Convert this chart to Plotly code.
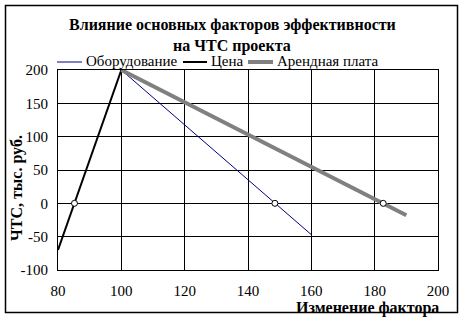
import plotly.graph_objects as go

# Data
x_equipment = [100, 160]
y_equipment = [200, -47]
x_price = [80, 100]
y_price = [-70, 200]
x_rent = [100, 190]
y_rent = [200, -18]
zero_x = [85.2, 148.5, 182.7]
zero_y = [0, 0, 0]

names = ["Оборудование", "Цена", "Арендная плата"]
colors = ["#000080", "#000000", "#808080"]
widths = [1, 2, 4]
x_ticks = [80, 100, 120, 140, 160, 180, 200]
y_ticks = [-100, -50, 0, 50, 100, 150, 200]

FONT = "Liberation Serif"

fig = go.Figure()
series = [(x_equipment, y_equipment), (x_price, y_price), (x_rent, y_rent)]
for (xs, ys), n, c, w in zip(series, names, colors, widths):
    fig.add_trace(go.Scatter(x=xs, y=ys, mode="lines", name=n, showlegend=False,
                             line=dict(color=c, width=w)))
fig.add_trace(go.Scatter(x=zero_x, y=zero_y, mode="markers", showlegend=False,
                         marker=dict(color="white", size=6, line=dict(color="black", width=1))))

W, H = 466, 328
L, R, T, B = 58, 28, 70, 58
pw, ph = W - L - R, H - T - B

def px(xp):
    return (xp - L) / pw

def py(yp):
    return (H - B - yp) / ph

shapes = [dict(type="rect", xref="paper", yref="paper",
               x0=px(5.5), x1=px(457.5), y0=py(312.5), y1=py(5.5),
               line=dict(color="black", width=1.5), fillcolor="rgba(0,0,0,0)", layer="below")]
annotations = [
    dict(text="<b>Влияние основных факторов эффективности</b>", xref="paper", yref="paper",
         x=px(232), y=py(25), xanchor="center", yanchor="middle", showarrow=False,
         font=dict(family=FONT, size=16)),
    dict(text="<b>на ЧТС проекта</b>", xref="paper", yref="paper",
         x=px(232), y=py(46), xanchor="center", yanchor="middle", showarrow=False,
         font=dict(family=FONT, size=16)),
    dict(text="<b>ЧТС, тыс. руб.</b>", xref="paper", yref="paper",
         x=px(17), y=py(188), xanchor="center", yanchor="middle", textangle=-90,
         showarrow=False, font=dict(family=FONT, size=16)),
    dict(text="<b>Изменение фактора</b>", xref="paper", yref="paper",
         x=px(441), y=py(308), xanchor="right", yanchor="middle",
         showarrow=False, font=dict(family=FONT, size=16)),
]

# manual legend (layout positions in pixels)
leg_line_x = [(57, 82), (183, 207), (248, 273)]
leg_y = 62
for (x0, x1), n, c, w in zip(leg_line_x, names, colors, widths):
    shapes.append(dict(type="line", xref="paper", yref="paper",
                       x0=px(x0), x1=px(x1), y0=py(leg_y), y1=py(leg_y),
                       line=dict(color=c, width=w)))
    annotations.append(dict(text=n, xref="paper", yref="paper",
                            x=px(x1 + 3), y=py(leg_y - 1), xanchor="left", yanchor="middle",
                            showarrow=False, font=dict(family=FONT, size=15),
                            borderpad=0))

fig.update_layout(
    width=W, height=H,
    margin=dict(l=L, r=R, t=T, b=B),
    paper_bgcolor="white", plot_bgcolor="white",
    font=dict(family=FONT, size=14, color="black"),
    showlegend=False,
    xaxis=dict(range=[80, 200], tickvals=x_ticks, ticktext=[str(v) for v in x_ticks],
               showgrid=True, gridcolor="black", gridwidth=1, zeroline=False,
               showline=True, linecolor="black", linewidth=1, mirror=True,
               ticks="", ticklabelstandoff=7, tickfont=dict(family=FONT, size=15)),
    yaxis=dict(range=[-100, 200], tickvals=y_ticks, ticktext=[str(v) for v in y_ticks],
               showgrid=True, gridcolor="black", gridwidth=1, zeroline=False,
               showline=True, linecolor="black", linewidth=1, mirror=True,
               ticks="", ticklabelstandoff=6, tickfont=dict(family=FONT, size=15)),
    shapes=shapes,
    annotations=annotations,
)

fig.write_html("out.html")
